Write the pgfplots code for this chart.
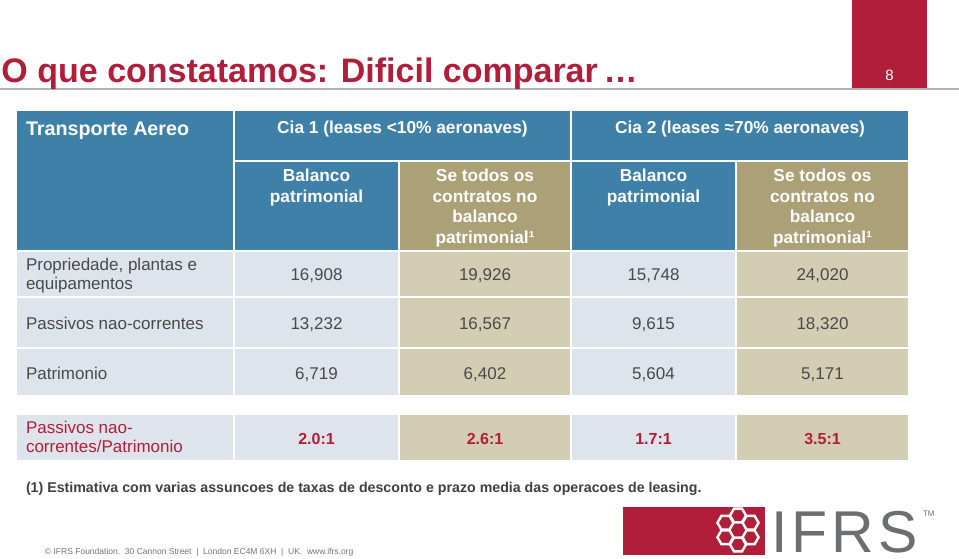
\documentclass[border=0pt]{standalone}
\usepackage{pgfplots}
\pgfplotsset{compat=1.18}
\usepackage{pgfplotstable}
\usepackage{fontspec}
\setmainfont{Liberation Sans}
\usetikzlibrary{shapes.geometric}

\definecolor{ifrsred}{HTML}{B01E3A}
\definecolor{hdrblue}{HTML}{3E80A8}
\definecolor{hdrtan}{HTML}{ACA076}
\definecolor{bodyblue}{HTML}{DEE4EC}
\definecolor{bodytan}{HTML}{D3CDB4}
\definecolor{txtgray}{HTML}{4A4A4A}
\definecolor{rulegray}{HTML}{B4B4B4}
\definecolor{logogray}{HTML}{6D6E71}

\newcommand{\fs}[1]{\fontsize{#1}{#1}\selectfont}
\tikzset{
  lw/.style={inner sep=0pt, outer sep=0pt, anchor=base west},
  lc/.style={inner sep=0pt, outer sep=0pt, anchor=base},
  hd/.style={lc, text=white, font=\bfseries\fs{17.3}},
  rl/.style={lw, text=txtgray, font=\fs{17}},
}

% cell values: x = column centre, y = baseline (px, from the top)
\pgfplotstableread{
x y v
316.5 280 16,908
485 280 19,926
653.5 280 15,748
822.5 280 24,020
316.5 329 13,232
485 329 16,567
653.5 329 9,615
822.5 329 18,320
316.5 379 6,719
485 379 6,402
653.5 379 5,604
822.5 379 5,171
}\bodytab

\pgfplotstableread{
x y v
316.5 444 2.0:1
485 444 2.6:1
653.5 444 1.7:1
822.5 444 3.5:1
}\ratiotab

\newcommand{\bodyrow}[2]{%
  \fill[bodyblue] (17,#1) rectangle (233,#2);
  \fill[bodyblue] (235,#1) rectangle (398,#2);
  \fill[bodytan] (400,#1) rectangle (570,#2);
  \fill[bodyblue] (572,#1) rectangle (735,#2);
  \fill[bodytan] (737,#1) rectangle (908,#2);
}

\begin{document}
\begin{tikzpicture}
\begin{axis}[
    scale only axis, width=959pt, height=558pt,
    xmin=0, xmax=959, ymin=0, ymax=558,
    y dir=reverse, hide axis, clip=false,
  ]
  % title bar
  \draw[rulegray, line width=2pt] (0,88.5) -- (959,88.5);
  \fill[ifrsred] (852,0) rectangle (927,88);
  \node[lc, text=white, font=\fs{15}] at (889.5,80) {8};
  \node[lw, text=ifrsred, font=\bfseries\fs{34}] at (1.5,82)
    {O que constatamos: Dificil comparar\,…};

  % header cells
  \fill[hdrblue] (17,111) rectangle (233,250);
  \fill[hdrblue] (235,111) rectangle (570,160);
  \fill[hdrblue] (572,111) rectangle (908,160);
  \fill[hdrblue] (235,162) rectangle (398,250);
  \fill[hdrtan] (400,162) rectangle (570,250);
  \fill[hdrblue] (572,162) rectangle (735,250);
  \fill[hdrtan] (737,162) rectangle (908,250);

  % body cells
  \bodyrow{252}{296}
  \bodyrow{298}{347}
  \bodyrow{349}{395}
  \bodyrow{415}{460}

  % header text
  \node[lw, text=white, font=\bfseries\fs{19.7}] at (26,135) {Transporte Aereo};
  \node[hd] at (402.5,133.5) {Cia 1 (leases <10\% aeronaves)};
  \node[hd] at (740,133.5) {Cia 2 (leases ≈70\% aeronaves)};
  \node[hd] at (316.5,181.5) {Balanco};
  \node[hd] at (316.5,202.5) {patrimonial};
  \node[hd] at (653.5,181.5) {Balanco};
  \node[hd] at (653.5,202.5) {patrimonial};
  \node[hd] at (485,181.5) {Se todos os};
  \node[hd] at (485,202.5) {contratos no};
  \node[hd] at (485,222.5) {balanco};
  \node[hd] at (485,243.5) {patrimonial¹};
  \node[hd] at (822.5,181.5) {Se todos os};
  \node[hd] at (822.5,202.5) {contratos no};
  \node[hd] at (822.5,222.5) {balanco};
  \node[hd] at (822.5,243.5) {patrimonial¹};

  % row labels
  \node[rl] at (26,270.5) {Propriedade, plantas e};
  \node[rl] at (26,289.5) {equipamentos};
  \node[rl] at (26,329) {Passivos nao-correntes};
  \node[rl] at (26,379) {Patrimonio};
  \node[rl, text=ifrsred] at (26,433.5) {Passivos nao-};
  \node[rl, text=ifrsred] at (26,452.5) {correntes/Patrimonio};

  % values
  \addplot[draw=none, nodes near coords, point meta=explicit symbolic,
    nodes near coords style={lc, text=txtgray, font=\fs{17}}]
    table[x=x, y=y, meta=v] {\bodytab};
  \addplot[draw=none, nodes near coords, point meta=explicit symbolic,
    nodes near coords style={lc, text=ifrsred, font=\bfseries\fs{16}}]
    table[x=x, y=y, meta=v] {\ratiotab};

  % footnote and footer
  \node[lw, text=black!75, font=\bfseries\fs{14.2}] at (26,492)
    {(1) Estimativa com varias assuncoes de taxas de desconto e prazo media das operacoes de leasing.};
  \node[lw, text=black!55, font=\fs{8.5}] at (45,554)
    {© IFRS Foundation.\ \ 30 Cannon Street\ \ |\ \ London EC4M 6XH\ \ |\ \ UK.\ \ www.ifrs.org};

  % logo
  \fill[ifrsred] (623,507) rectangle (765,555);
  \pgfplotsinvokeforeach{30,90,150,210,270,330}{
    \node[regular polygon, regular polygon sides=6, minimum size=16pt,
      draw=white, line width=2.4pt, fill=ifrsred, inner sep=0pt]
      at ([shift={(#1:14.5pt)}] 738,530) {};
  }
  \node[lw, text depth=0pt, text=logogray, font=\fs{59}\addfontfeatures{LetterSpace=7}]
    at (771,552.5) {IFRS};
  \node[lw, text=logogray, font=\fs{8}] at (923,516) {TM};
\end{axis}
\pgfresetboundingbox
\useasboundingbox (current axis.south west) rectangle (current axis.north east);
\end{tikzpicture}
\end{document}
